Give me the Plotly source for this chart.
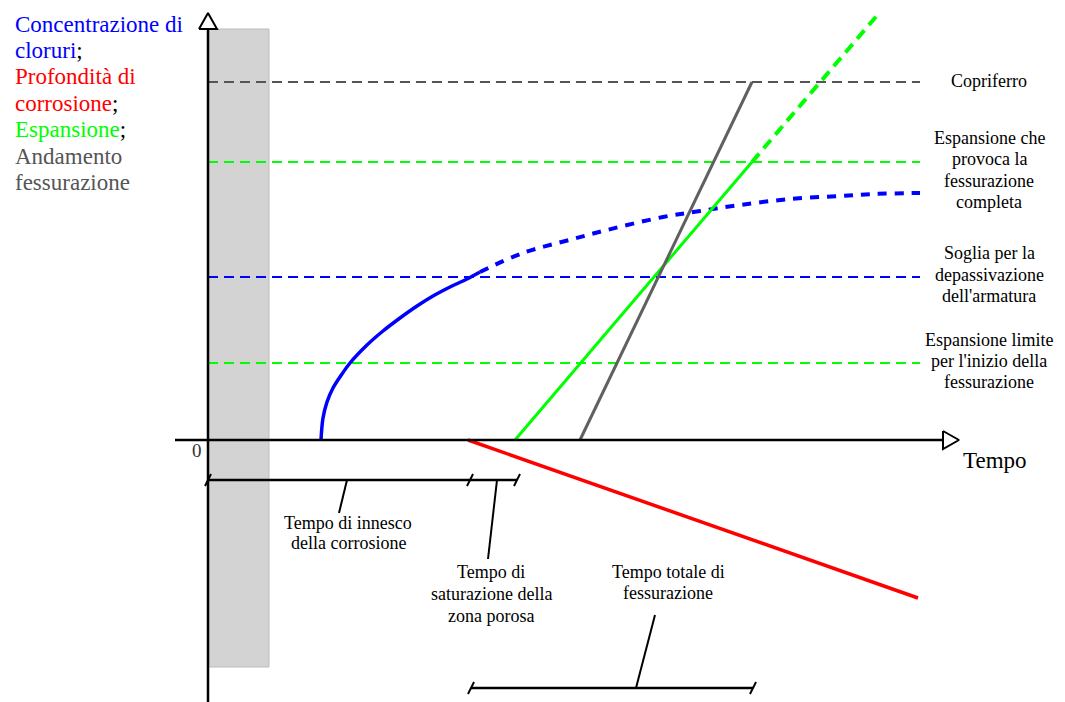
import plotly.graph_objects as go

# ---- figure geometry (data units are 1:1 with screen pixels) ----
W, H = 1065, 702
X_RANGE = [-208, 857]
Y_RANGE = [-262, 440]
FONT = "'Liberation Serif', 'Times New Roman', 'DejaVu Serif', serif"

# ---- horizontal threshold levels ----
level_values = [358, 278, 163, 77]
level_colors = ["#555555", "#00ff00", "#0000ff", "#00ff00"]
level_start, level_end = 0, 712

# ---- chloride concentration (blue) ----
chloride_t_solid = [113, 115, 119, 125, 134, 142, 159, 175, 192, 209, 225, 242, 259, 272]
chloride_c_solid = [0, 22, 38, 52, 66, 77, 95, 109, 122, 134, 144, 153, 161, 168]
chloride_t_dash = [272, 315, 365, 399, 455, 492, 532, 582, 632, 665, 712]
chloride_c_dash = [168, 187, 201, 210, 223, 229, 235, 241, 244, 246, 247]

# ---- corrosion depth (red) ----
corrosion_t = [260, 710]
corrosion_d = [0, -158]

# ---- expansion (green) ----
expansion_t_solid = [307, 544]
expansion_e_solid = [0, 278]
expansion_t_dash = [544, 672]
expansion_e_dash = [278, 428]

# ---- crack development (grey) ----
crack_t = [372, 544]
crack_w = [0, 358]

# ---- time intervals ----
interval_marks = [0, 262, 309]
interval_y = -40
total_marks = [263, 545]
total_y = -248

# ---- axes extents ----
x_axis = [-33, 735]
y_axis = [-262, 411]
arrow_len, arrow_half = 16, 9

fig = go.Figure()

# concrete cover band
fig.add_shape(type="rect", x0=0, x1=61, y0=-227, y1=411,
              fillcolor="#d3d3d3", line=dict(color="#bdbdbd", width=1), layer="below")

def line(xs, ys, color, width, dash="solid", shape="linear"):
    fig.add_trace(go.Scatter(x=xs, y=ys, mode="lines", hoverinfo="skip",
                             line=dict(color=color, width=width, dash=dash, shape=shape)))

# threshold levels
for v, c in zip(level_values, level_colors):
    line([level_start, level_end], [v, v], c, 2, dash="10px,6px")

# curves
line(chloride_t_solid, chloride_c_solid, "#0000ff", 3.5, shape="spline")
line(chloride_t_dash, chloride_c_dash, "#0000ff", 4, dash="9px,8px", shape="spline")
line(corrosion_t, corrosion_d, "#ff0000", 3.5)
line(expansion_t_solid, expansion_e_solid, "#00ff00", 3)
line(expansion_t_dash, expansion_e_dash, "#00ff00", 4, dash="11px,7px")
line(crack_t, crack_w, "#606060", 3)

# axes
line(x_axis, [0, 0], "black", 2.5)
line([0, 0], y_axis, "black", 2.5)
xe, ye = x_axis[1], y_axis[1]
fig.add_trace(go.Scatter(x=[xe, xe + arrow_len, xe, xe], y=[arrow_half, 0, -arrow_half, arrow_half],
                         mode="lines", fill="toself", fillcolor="white", hoverinfo="skip",
                         line=dict(color="black", width=2)))
fig.add_trace(go.Scatter(x=[-arrow_half, 0, arrow_half, -arrow_half], y=[ye, ye + arrow_len, ye, ye],
                         mode="lines", fill="toself", fillcolor="white", hoverinfo="skip",
                         line=dict(color="black", width=2)))

# interval brackets
line([interval_marks[0], interval_marks[-1]], [interval_y, interval_y], "black", 2.5)
for m in interval_marks:
    line([m - 3, m + 3], [interval_y - 6, interval_y + 6], "black", 2)
line([total_marks[0], total_marks[-1]], [total_y, total_y], "black", 2.5)
for m in total_marks:
    line([m - 3, m + 3], [total_y - 6, total_y + 6], "black", 2)

# leader lines
line([139, 131], [interval_y, -73], "black", 2)
line([289, 280], [interval_y, -119], "black", 2)
line([428, 447], [total_y, -175], "black", 2)

def text(x, y, s, size, color="black", xanchor="center"):
    fig.add_annotation(x=x, y=y, text=s, showarrow=False, xanchor=xanchor, yanchor="middle",
                       font=dict(family=FONT, size=size, color=color))

# description at the top left
legend_lines = [
    ("Concentrazione di", "#0000ff", ""),
    ("cloruri", "#0000ff", ";"),
    ("Profondità di", "#ff0000", ""),
    ("corrosione", "#ff0000", ";"),
    ("Espansione", "#00ff00", ";"),
    ("Andamento", "#555555", ""),
    ("fessurazione", "#555555", ""),
]
legend_y = [416, 390, 364, 337, 311, 284, 258]
for (s, c, tail), y in zip(legend_lines, legend_y):
    txt = f"<span style='color:{c}'>{s}</span>" + (f"<span style='color:black'>{tail}</span>" if tail else "")
    text(-195, y, txt, 23, xanchor="left")

# right-hand labels
right_x = 781
right_labels = [
    (["Copriferro"], [359]),
    (["Espansione che", "provoca la", "fessurazione", "completa"], [302, 281, 259, 238]),
    (["Soglia per la", "depassivazione", "dell'armatura"], [187, 165, 144]),
    (["Espansione limite", "per l'inizio della", "fessurazione"], [100, 79, 58]),
]
for lines, ys in right_labels:
    for s, y in zip(lines, ys):
        text(right_x, y, s, 18)

# axis labels
text(787, -20, "Tempo", 23)
text(-11, -10, "0", 19, color="#333333")

# interval labels
bottom_labels = [
    (140, ["Tempo di innesco", "della corrosione"], [-83, -103]),
    (283, ["Tempo di", "saturazione della", "zona porosa"], [-132, -154, -176]),
    (460, ["Tempo totale di", "fessurazione"], [-132, -153]),
]
for x, lines, ys in bottom_labels:
    for s, y in zip(lines, ys):
        text(x, y, s, 18)

fig.update_layout(
    width=W, height=H, margin=dict(l=0, r=0, t=0, b=0),
    paper_bgcolor="white", plot_bgcolor="white", showlegend=False,
    xaxis=dict(range=X_RANGE, visible=False, fixedrange=True),
    yaxis=dict(range=Y_RANGE, visible=False, fixedrange=True),
)
fig.write_html("out.html")
